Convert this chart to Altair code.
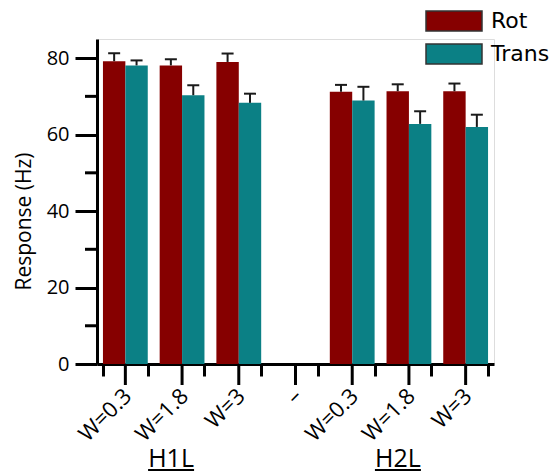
import altair as alt
import pandas as pd

categories = ["H1L W=0.3", "H1L W=1.8", "H1L W=3", "–", "H2L W=0.3", "H2L W=1.8", "H2L W=3"]
rot = [79.2, 78.1, 79.0, None, 71.2, 71.35, 71.35]
rot_err = [2.1, 1.6, 2.2, None, 1.8, 1.8, 2.0]
trans = [78.1, 70.3, 68.3, None, 68.9, 62.8, 62.0]
trans_err = [1.3, 2.6, 2.4, None, 3.6, 3.3, 3.2]
series = ["Rot", "Trans"]
colors = ["#860000", "#0b8085"]
groups = ["H1L", "H2L"]
group_anchor = ["H1L W=1.8", "H2L W=1.8"]
y_major = [0, 20, 40, 60, 80]
y_minor = [10, 30, 50, 70]

rows = []
for i, c in enumerate(categories):
    if rot[i] is None:
        continue
    rows.append({"cat": c, "series": "Rot", "value": rot[i], "top": rot[i] + rot_err[i]})
    rows.append({"cat": c, "series": "Trans", "value": trans[i], "top": trans[i] + trans_err[i]})
df = pd.DataFrame(rows)
cat_df = pd.DataFrame({"cat": categories})
grp_df = pd.DataFrame({"cat": group_anchor, "label": groups})
minor_df = pd.DataFrame({"v": y_minor})

AXF = "Open Sans"

xscale = alt.Scale(domain=categories, paddingInner=0.21, paddingOuter=0.105)
yscale = alt.Scale(domain=[0, 85], nice=False)

xaxis = alt.Axis(
    title=None, tickBand="extent", tickSize=12, tickWidth=3, tickColor="black",
    domainWidth=3, domainColor="black", labelAngle=-45, labelAlign="right",
    labelBaseline="top", labelFont=AXF, labelFontSize=22, labelColor="black",
    labelPadding=9, labelOffset=-5,
    labelExpr="indexof(datum.label, ' ') >= 0 ? split(datum.label, ' ')[1] : datum.label",
)
yaxis = alt.Axis(
    title="Response (Hz)", values=y_major, tickSize=22,
    tickWidth=3, tickColor="black", domainWidth=3, domainColor="black",
    labelFont=AXF, labelFontSize=20, labelColor="black", labelPadding=6,
    titleFont=AXF, titleFontSize=21, titleFontWeight="normal", titleColor="black",
    titleX=-73, titleY=182, titleAlign="center", titleBaseline="middle", titleAngle=-90,
    grid=False,
)

color = alt.Color("series:N", scale=alt.Scale(domain=series, range=colors),
                  legend=alt.Legend(
                      title=None, orient="none", legendX=346, legendY=-29,
                      symbolType="M-2.8,-1L2.8,-1L2.8,1L-2.8,1Z",
                      symbolSize=400, symbolStrokeColor="#333", symbolStrokeWidth=1.5,
                      symbolOpacity=1, labelFont="DejaVu Sans", labelFontSize=22,
                      labelColor="black", labelOffset=26, rowPadding=7, padding=0,
                  ))

base = alt.Chart(df)
bars = base.mark_bar(opacity=1).encode(
    x=alt.X("cat:N", scale=xscale, axis=xaxis, sort=categories),
    xOffset=alt.XOffset("series:N", scale=alt.Scale(domain=series, paddingInner=0, paddingOuter=0)),
    y=alt.Y("value:Q", scale=yscale, axis=yaxis),
    color=color,
)
err = base.mark_rule(color="#1a1a1a", strokeWidth=2).encode(
    x=alt.X("cat:N", sort=categories),
    xOffset=alt.XOffset("series:N"),
    y="value:Q",
    y2="top:Q",
)
caps = base.mark_tick(color="#1a1a1a", thickness=2, size=12, opacity=1).encode(
    x=alt.X("cat:N", sort=categories),
    xOffset=alt.XOffset("series:N"),
    y="top:Q",
)
major = alt.Chart(cat_df).mark_rule(color="black", strokeWidth=3).encode(
    x=alt.X("cat:N", sort=categories),
    y=alt.value(325),
    y2=alt.value(346),
)
yminor = alt.Chart(minor_df).mark_rule(color="black", strokeWidth=3).encode(
    y=alt.Y("v:Q"),
    x=alt.value(-12),
    x2=alt.value(0),
)
glabels = alt.Chart(grp_df).mark_text(
    font=AXF, fontSize=25, color="black", dx=-11, baseline="alphabetic", align="center"
).encode(
    x=alt.X("cat:N", sort=categories),
    y=alt.value(428),
    text="label:N",
)
gunder = alt.Chart(grp_df).mark_rule(color="black", strokeWidth=2, xOffset=-34, x2Offset=12).encode(
    x=alt.X("cat:N", sort=categories),
    x2="cat:N",
    y=alt.value(431),
)

chart = alt.layer(bars, err, caps, major, yminor, glabels, gunder).properties(
    width=397, height=325,
    autosize=alt.AutoSizeParams(type="none"),
    padding={"left": 97, "top": 39, "right": 61, "bottom": 109},
).configure_view(stroke=None).configure(background="white")

chart.save("out.html", embed_options={"renderer": "svg", "actions": False})
